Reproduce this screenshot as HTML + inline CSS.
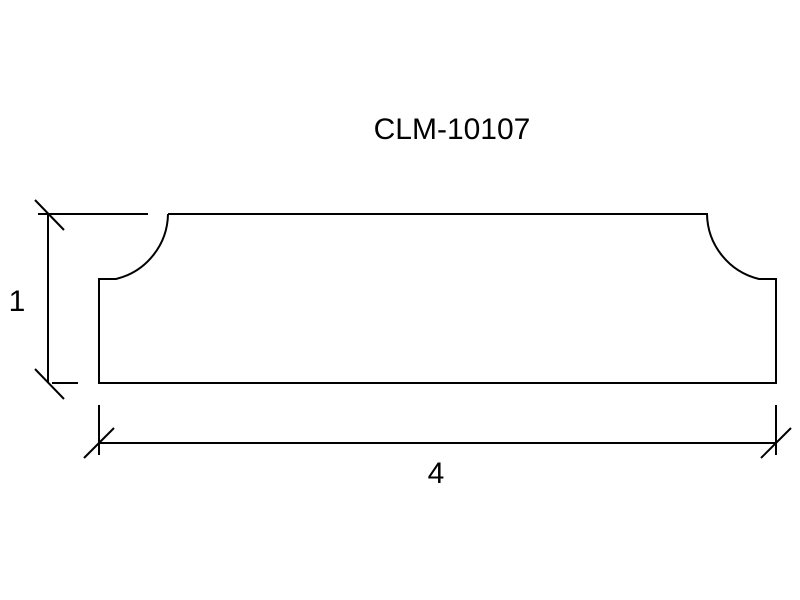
<!DOCTYPE html>
<html><head><style>body{margin:0;background:#fff}</style></head><body>
<svg width="800" height="600" xmlns="http://www.w3.org/2000/svg" style="display:block">
<rect width="800" height="600" fill="#fff"/>
<g stroke="#000" stroke-width="2" fill="none">
<path d="M168,214 L707,214 A68,68 0 0 0 759,279 L776,279 L776,383 L99,383 L99,279 L116,279 A68,68 0 0 0 168,214"/>
<line x1="38" y1="214" x2="148" y2="214"/>
<line x1="52" y1="383" x2="78" y2="383"/>
<line x1="48" y1="214" x2="48" y2="383"/>
<line x1="35" y1="200" x2="64" y2="230"/>
<line x1="35" y1="369" x2="64" y2="399"/>
<line x1="99" y1="405" x2="99" y2="455"/>
<line x1="776" y1="405" x2="776" y2="455"/>
<line x1="99" y1="443" x2="776" y2="443"/>
<line x1="84" y1="458" x2="114" y2="428"/>
<line x1="761" y1="458" x2="791" y2="428"/>
</g>
<g font-family="Liberation Sans, sans-serif" font-size="30" fill="#000">
<text x="452" y="139" text-anchor="middle">CLM-10107</text>
<text x="17" y="311" text-anchor="middle">1</text>
<text x="436" y="483" text-anchor="middle">4</text>
</g>
</svg>
</body></html>
